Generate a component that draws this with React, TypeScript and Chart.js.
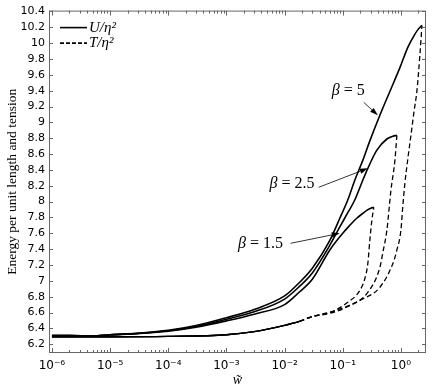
import React, { useEffect, useRef } from "react";
import { Chart, registerables } from "chart.js";

Chart.register(...registerables);

// ---------- data ----------
const W_U5 = [1e-6, 2e-6, 5e-6, 1e-5, 3e-5, 1e-4, 3e-4, 1e-3, 3e-3, 0.01, 0.018, 0.03, 0.06, 0.089, 0.122, 0.161, 0.221, 0.29, 0.435, 0.646, 0.961, 1.32, 1.61, 1.96, 2.3];
const U5 = [6.31, 6.31, 6.305, 6.32, 6.34, 6.375, 6.435, 6.535, 6.64, 6.81, 6.98, 7.16, 7.51, 7.79, 8.02, 8.27, 8.52, 8.76, 9.09, 9.39, 9.69, 9.95, 10.07, 10.17, 10.223];

const W_U25 = [1e-6, 2e-6, 5e-6, 1e-5, 3e-5, 1e-4, 3e-4, 1e-3, 3e-3, 0.01, 0.018, 0.03, 0.06, 0.089, 0.122, 0.161, 0.221, 0.27, 0.386, 0.574, 0.728, 0.853];
const U25 = [6.31, 6.31, 6.305, 6.32, 6.338, 6.37, 6.425, 6.515, 6.61, 6.77, 6.93, 7.1, 7.45, 7.68, 7.86, 8.02, 8.27, 8.42, 8.65, 8.79, 8.825, 8.836];

const W_U15 = [1e-6, 2e-6, 5e-6, 1e-5, 3e-5, 1e-4, 3e-4, 1e-3, 3e-3, 0.01, 0.018, 0.03, 0.06, 0.1, 0.132, 0.174, 0.22, 0.259, 0.304, 0.342];
const U15 = [6.31, 6.31, 6.305, 6.318, 6.335, 6.365, 6.415, 6.495, 6.58, 6.7, 6.86, 7.02, 7.39, 7.6, 7.7, 7.79, 7.85, 7.89, 7.916, 7.928];

const W_T15 = [1e-6, 1e-5, 1e-4, 1e-3, 3e-3, 0.01, 0.018, 0.03, 0.06, 0.117, 0.197, 0.24, 0.27, 0.292, 0.316, 0.342];
const T15 = [6.295, 6.295, 6.3, 6.32, 6.36, 6.44, 6.49, 6.55, 6.6, 6.72, 6.88, 7.03, 7.22, 7.51, 7.76, 7.928];

const W_T25 = [1e-6, 1e-5, 1e-4, 1e-3, 3e-3, 0.01, 0.018, 0.03, 0.06, 0.117, 0.259, 0.435, 0.49, 0.574, 0.673, 0.788, 0.853];
const T25 = [6.295, 6.295, 6.3, 6.32, 6.36, 6.44, 6.49, 6.55, 6.59, 6.67, 6.84, 7.17, 7.36, 7.64, 8.14, 8.52, 8.836];

const W_T5 = [1e-6, 1e-5, 1e-4, 1e-3, 3e-3, 0.01, 0.018, 0.03, 0.079, 0.197, 0.435, 0.728, 0.853, 1.0, 1.08, 1.17, 1.32, 1.49, 1.675, 1.886, 2.12, 2.3];
const T5 = [6.295, 6.295, 6.3, 6.32, 6.36, 6.44, 6.49, 6.55, 6.63, 6.755, 6.92, 7.22, 7.39, 7.64, 7.95, 8.23, 8.55, 8.84, 9.13, 9.4, 9.85, 10.223];

const X_TICKS = [1e-6, 1e-5, 1e-4, 1e-3, 1e-2, 1e-1, 1];
const X_TICK_LABELS = ["10⁻⁶", "10⁻⁵", "10⁻⁴", "10⁻³", "10⁻²", "10⁻¹", "10⁰"];
const Y_TICKS = [6.2, 6.4, 6.6, 6.8, 7, 7.2, 7.4, 7.6, 7.8, 8, 8.2, 8.4, 8.6, 8.8, 9, 9.2, 9.4, 9.6, 9.8, 10, 10.2, 10.4];
const Y_TICK_LABELS = ["6.2", "6.4", "6.6", "6.8", "7", "7.2", "7.4", "7.6", "7.8", "8", "8.2", "8.4", "8.6", "8.8", "9", "9.2", "9.4", "9.6", "9.8", "10", "10.2", "10.4"];

const LEGEND_LABELS = ["U/η²", "T/η²"];
const BETA_VALUES = ["5", "2.5", "1.5"];
const Y_TITLE = "Energy per unit length and tension";
const X_TITLE = "w̃";

// annotation anchors in data coordinates
const BETA_LABEL_AT = [[0.1245, 9.404], [0.01346, 8.231], [0.00386, 7.474]];
const BETA_ARROW_FROM = [[0.23, 9.252], [0.0386, 8.181], [0.01268, 7.474]];
const BETA_ARROW_TO = [[0.401, 9.089], [0.27, 8.42], [0.0888, 7.6]];

const X_MIN = 8.9e-7;
const X_MAX = 2.7;
const Y_MIN = 6.09;
const Y_MAX = 10.41;

const pts = (xs: number[], ys: number[]) => xs.map((x, i) => ({ x, y: ys[i] }));

const DASH = [5, 3];

const framePlugin = {
  id: "frame",
  afterDatasetsDraw(chart: any) {
    const { ctx, chartArea: a, scales } = chart;
    const xs = scales.x;
    const ys = scales.y;
    ctx.save();
    ctx.strokeStyle = "#666";
    ctx.lineWidth = 1;
    ctx.setLineDash([]);
    ctx.strokeRect(a.left + 0.5, a.top + 0.5, a.right - a.left - 1, a.bottom - a.top - 1);
    ctx.beginPath();
    for (let e = -7; e <= 1; e++) {
      for (let m = 1; m <= 9; m++) {
        const v = m * Math.pow(10, e);
        if (v < xs.min || v > xs.max) continue;
        const px = Math.round(xs.getPixelForValue(v)) + 0.5;
        const len = m === 1 ? 5 : 3;
        ctx.moveTo(px, a.bottom);
        ctx.lineTo(px, a.bottom - len);
        ctx.moveTo(px, a.top);
        ctx.lineTo(px, a.top + len);
      }
    }
    for (const v of Y_TICKS) {
      const py = Math.round(ys.getPixelForValue(v)) + 0.5;
      ctx.moveTo(a.left, py);
      ctx.lineTo(a.left + 4, py);
      ctx.moveTo(a.right, py);
      ctx.lineTo(a.right - 4, py);
    }
    ctx.stroke();

    // legend
    ctx.fillStyle = "#000";
    ctx.strokeStyle = "#000";
    ctx.textBaseline = "middle";
    ctx.textAlign = "left";
    ctx.font = "italic 15px 'Liberation Serif'";
    LEGEND_LABELS.forEach((t, i) => {
      const y = a.top + 17 + i * 15.5;
      ctx.lineWidth = 1.6;
      ctx.setLineDash(i === 0 ? [] : [4, 2]);
      ctx.beginPath();
      ctx.moveTo(a.left + 11, y);
      ctx.lineTo(a.left + 38, y);
      ctx.stroke();
      ctx.setLineDash([]);
      ctx.fillText(t, a.left + 40, y);
    });

    // beta annotations
    BETA_VALUES.forEach((b, i) => {
      const lx = xs.getPixelForValue(BETA_LABEL_AT[i][0]);
      const ly = ys.getPixelForValue(BETA_LABEL_AT[i][1]);
      ctx.font = "italic 16px 'Liberation Serif'";
      const w1 = ctx.measureText("β").width;
      ctx.font = "16px 'Liberation Serif'";
      const rest = " = " + b;
      const w2 = ctx.measureText(rest).width;
      const x0 = lx - (w1 + w2) / 2;
      ctx.font = "italic 16px 'Liberation Serif'";
      ctx.fillText("β", x0, ly);
      ctx.font = "16px 'Liberation Serif'";
      ctx.fillText(rest, x0 + w1, ly);

      const x1 = xs.getPixelForValue(BETA_ARROW_FROM[i][0]);
      const y1 = ys.getPixelForValue(BETA_ARROW_FROM[i][1]);
      const x2 = xs.getPixelForValue(BETA_ARROW_TO[i][0]);
      const y2 = ys.getPixelForValue(BETA_ARROW_TO[i][1]);
      const ang = Math.atan2(y2 - y1, x2 - x1);
      const hl = 8;
      const hw = 2.6;
      const bx = x2 - hl * Math.cos(ang);
      const by = y2 - hl * Math.sin(ang);
      ctx.lineWidth = 0.8;
      ctx.beginPath();
      ctx.moveTo(x1, y1);
      ctx.lineTo(bx, by);
      ctx.stroke();
      ctx.beginPath();
      ctx.moveTo(x2, y2);
      ctx.lineTo(bx + hw * Math.sin(ang), by - hw * Math.cos(ang));
      ctx.lineTo(bx - hw * Math.sin(ang), by + hw * Math.cos(ang));
      ctx.closePath();
      ctx.fill();
    });
    ctx.restore();
  },
};

const solid = (data: any[], label: string) => ({
  label,
  data,
  borderColor: "#000",
  borderWidth: 1.6,
  pointRadius: 0,
  fill: false,
  cubicInterpolationMode: "monotone",
});

const dashed = (data: any[], label: string) => ({
  label,
  data,
  borderColor: "#000",
  borderWidth: 1.3,
  borderDash: DASH,
  pointRadius: 0,
  fill: false,
  cubicInterpolationMode: "monotone",
  segment: {
    borderDash: (c: any) => (c.p1.parsed.x <= 0.02 ? [] : DASH),
  },
});

export default function App() {
  const ref = useRef<HTMLCanvasElement | null>(null);
  useEffect(() => {
    if (!ref.current) return;
    const chart = new Chart(ref.current, {
      type: "line",
      data: {
        datasets: [
          solid(pts(W_U5, U5), "U/η² β=5"),
          solid(pts(W_U25, U25), "U/η² β=2.5"),
          solid(pts(W_U15, U15), "U/η² β=1.5"),
          dashed(pts(W_T5, T5), "T/η² β=5"),
          dashed(pts(W_T25, T25), "T/η² β=2.5"),
          dashed(pts(W_T15, T15), "T/η² β=1.5"),
        ] as any,
      },
      options: {
        animation: false,
        responsive: false,
        layout: { padding: { top: 10, right: 10, left: 0, bottom: 0 } },
        plugins: { legend: { display: false }, tooltip: { enabled: false } },
        scales: {
          x: {
            type: "logarithmic",
            min: X_MIN,
            max: X_MAX,
            grid: { display: false, drawTicks: false },
            border: { display: false },
            afterBuildTicks: (s: any) => {
              s.ticks = X_TICKS.map((v) => ({ value: v }));
            },
            afterFit: (s: any) => {
              s.height = 39;
            },
            ticks: {
              autoSkip: false,
              maxRotation: 0,
              padding: 6,
              color: "#000",
              font: { family: "'DejaVu Sans'", size: 12 },
              callback: (_v: any, i: number) => X_TICK_LABELS[i],
            },
            title: {
              display: true,
              text: X_TITLE,
              color: "#000",
              font: { family: "'Liberation Serif'", style: "italic", size: 14 },
              padding: { top: 0, bottom: 3 },
            },
          },
          y: {
            type: "linear",
            min: Y_MIN,
            max: Y_MAX,
            grid: { display: false, drawTicks: false },
            border: { display: false },
            afterBuildTicks: (s: any) => {
              s.ticks = Y_TICKS.map((v) => ({ value: v }));
            },
            afterFit: (s: any) => {
              s.width = 49;
            },
            ticks: {
              autoSkip: false,
              padding: 4,
              color: "#000",
              font: { family: "'DejaVu Sans'", size: 11 },
              callback: (_v: any, i: number) => Y_TICK_LABELS[i],
            },
            title: {
              display: true,
              text: Y_TITLE,
              color: "#000",
              font: { family: "'Liberation Serif'", size: 13.5 },
              padding: { top: 4, bottom: 0 },
            },
          },
        },
      } as any,
      plugins: [framePlugin],
    });
    return () => chart.destroy();
  }, []);
  return (
    <div style={{ position: "absolute", left: 0, top: 0, width: 436, height: 392, background: "#fff" }}>
      <canvas ref={ref} width={436} height={392} style={{ display: "block" }} />
    </div>
  );
}
